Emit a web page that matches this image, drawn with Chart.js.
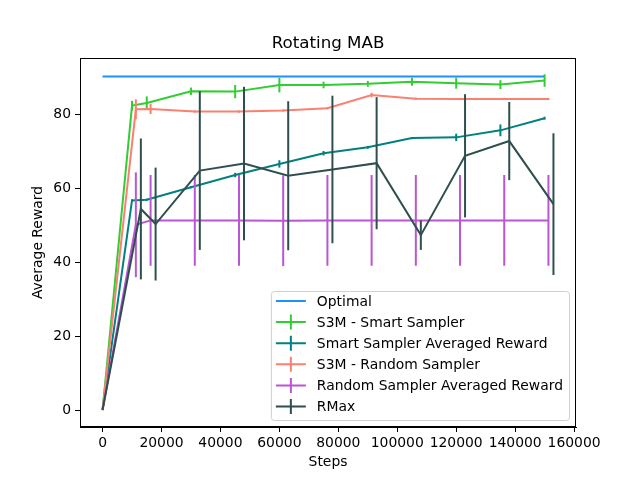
<!DOCTYPE html>
<html>
<head>
<meta charset="utf-8">
<script src="https://cdn.jsdelivr.net/npm/chart.js@4/dist/chart.umd.min.js"></script>
<style>
  html, body { margin: 0; padding: 0; background: #ffffff; }
  #wrap { width: 640px; height: 480px; }
</style>
</head>
<body>
<div id="wrap"><canvas id="chart" width="640" height="480"></canvas></div>
<script>
// Step counts for each family of runs
const stepsSmart = [0, 10000, 15000, 30000, 45000, 60000, 75000, 90000, 105000, 120000, 135000, 150000];
const stepsRandom = [0, 11300, 16300, 31300, 46300, 61300, 76300, 91300, 106300, 121300, 136300, 151300];
const stepsRMax = [0, 13000, 18000, 33000, 48000, 63000, 78000, 93000, 108000, 123000, 138000, 153000];

// Series values and their error half-widths
const optimal = [90.4, 90.4, 90.4, 90.4, 90.4, 90.4, 90.4, 90.4, 90.4, 90.4, 90.4, 90.4];
const s3mSmart = [0, 82.5, 83.2, 86.4, 86.3, 88.1, 88.1, 88.4, 89.0, 88.6, 88.2, 89.3];
const s3mSmartErr = [0, 1.3, 1.8, 1.0, 1.8, 2.0, 0.9, 0.8, 1.1, 1.5, 1.2, 1.7];
const smartAvg = [0, 56.8, 57.0, 60.4, 63.7, 66.7, 69.6, 71.2, 73.7, 73.9, 75.8, 79.1];
const smartAvgErr = [0, 0.3, 0.3, 0.3, 0.6, 1.0, 0.6, 0.4, 0.3, 1.0, 1.6, 0.4];
const s3mRandom = [0, 81.5, 81.6, 80.9, 80.9, 81.2, 81.8, 85.4, 84.4, 84.3, 84.3, 84.3];
const s3mRandomErr = [0, 2.7, 1.4, 0.3, 0.3, 0.3, 0.3, 0.6, 0.3, 0.3, 0.3, 0.3];
const randomAvg = [0, 50.2, 51.4, 51.4, 51.4, 51.3, 51.4, 51.4, 51.4, 51.4, 51.4, 51.4];
const randomAvgErr = [0, 14.2, 12.3, 12.3, 12.3, 12.3, 12.3, 12.3, 12.3, 12.3, 12.3, 12.3];
const rmax = [0, 54.5, 50.4, 64.9, 66.8, 63.5, 65.2, 66.9, 47.4, 68.9, 72.9, 55.8];
const rmaxErr = [0, 19.1, 15.3, 21.5, 20.8, 20.2, 20.0, 17.9, 4.0, 16.7, 10.6, 19.2];

const xTicks = [0, 20000, 40000, 60000, 80000, 100000, 120000, 140000, 160000];
const yTicks = [0, 20, 40, 60, 80];

const FONT = "'DejaVu Sans', 'Liberation Sans', sans-serif";

function pts(xs, ys) {
    return xs.map(function(x, i) { return { x: x, y: ys[i] }; });
}

function serie(label, xs, ys, errs, color, order) {
    return {
        label: label,
        data: pts(xs, ys),
        errors: errs,
        borderColor: color,
        backgroundColor: color,
        borderWidth: 2,
        pointRadius: 0,
        tension: 0,
        fill: false,
        order: order
    };
}

// Vertical error bars, drawn right after their own line
const errorBars = {
    id: 'errorBars',
    afterDatasetDraw: function(chart, args) {
        const ds = chart.data.datasets[args.index];
        if (!ds.errors) return;
        const ctx = chart.ctx;
        const xs = chart.scales.x, ys = chart.scales.y;
        ctx.save();
        ctx.strokeStyle = ds.borderColor;
        ctx.lineWidth = 2;
        ds.data.forEach(function(p, i) {
            const e = ds.errors[i];
            if (!e) return;
            const px = xs.getPixelForValue(p.x);
            ctx.beginPath();
            ctx.moveTo(px, ys.getPixelForValue(p.y - e));
            ctx.lineTo(px, ys.getPixelForValue(p.y + e));
            ctx.stroke();
        });
        ctx.restore();
    }
};

// Full frame around the axes, matplotlib style
const frame = {
    id: 'frame',
    afterDraw: function(chart) {
        const a = chart.chartArea, ctx = chart.ctx;
        ctx.save();
        ctx.strokeStyle = '#000';
        ctx.lineWidth = 1;
        ctx.strokeRect(Math.round(a.left) + 0.5, Math.round(a.top) + 0.5,
            Math.round(a.right - a.left) - 1, Math.round(a.bottom - a.top) - 1);
        ctx.restore();
    }
};

// Legend box in the lower right corner of the axes
const boxLegend = {
    id: 'boxLegend',
    afterDraw: function(chart) {
        const a = chart.chartArea, ctx = chart.ctx;
        const sets = chart.data.datasets;
        ctx.save();
        ctx.font = '13.9px ' + FONT;
        let maxW = 0;
        sets.forEach(function(d) { maxW = Math.max(maxW, ctx.measureText(d.label).width); });
        const pad = 5, handle = 30, gap = 11, row = 21.1;
        const w = pad + handle + gap + maxW + 6;
        const h = 129;
        const right = a.right - 7, bottom = a.bottom - 7;
        const left = right - w, top = bottom - h;

        ctx.beginPath();
        ctx.roundRect(left + 0.5, top + 0.5, w, h, 3);
        ctx.fillStyle = 'rgba(255,255,255,0.8)';
        ctx.fill();
        ctx.strokeStyle = '#d0d0d0';
        ctx.lineWidth = 1;
        ctx.stroke();

        sets.forEach(function(d, i) {
            const cy = top + 10 + i * row;
            const hx = left + pad;
            ctx.strokeStyle = d.borderColor;
            ctx.lineWidth = 2;
            ctx.beginPath();
            ctx.moveTo(hx, cy);
            ctx.lineTo(hx + handle, cy);
            if (d.errors) {
                ctx.moveTo(hx + handle / 2, cy - 7.5);
                ctx.lineTo(hx + handle / 2, cy + 7.5);
            }
            ctx.stroke();
            ctx.fillStyle = '#000';
            ctx.textBaseline = 'middle';
            ctx.textAlign = 'left';
            ctx.fillText(d.label, hx + handle + gap, cy + 1);
        });
        ctx.restore();
    }
};

const ctx = document.getElementById('chart').getContext('2d');

new Chart(ctx, {
    type: 'line',
    data: {
        datasets: [
            serie('Optimal', stepsSmart, optimal, null, '#1E90FF', 6),
            serie('S3M - Smart Sampler', stepsSmart, s3mSmart, s3mSmartErr, '#32CD32', 5),
            serie('Smart Sampler Averaged Reward', stepsSmart, smartAvg, smartAvgErr, '#008080', 4),
            serie('S3M - Random Sampler', stepsRandom, s3mRandom, s3mRandomErr, '#FA8072', 3),
            serie('Random Sampler Averaged Reward', stepsRandom, randomAvg, randomAvgErr, '#BA55D3', 2),
            serie('RMax', stepsRMax, rmax, rmaxErr, '#2F4F4F', 1)
        ]
    },
    options: {
        responsive: false,
        animation: false,
        devicePixelRatio: 1,
        layout: { padding: { left: 0, right: 64, top: 0, bottom: 0 } },
        plugins: {
            legend: { display: false },
            tooltip: { enabled: false },
            title: {
                display: true,
                text: 'Rotating MAB',
                fullSize: false,
                color: '#000',
                font: { family: FONT, size: 16.7, weight: 'normal', lineHeight: 1.2 },
                padding: { top: 34, bottom: 4 }
            }
        },
        scales: {
            x: {
                type: 'linear',
                min: -7650,
                max: 160650,
                afterFit: function(scale) { scale.height = 53; },
                afterBuildTicks: function(scale) {
                    scale.ticks = xTicks.map(function(v) { return { value: v }; });
                },
                grid: { drawOnChartArea: false, drawTicks: true, tickLength: 5, color: '#000', lineWidth: 1 },
                border: { display: true, color: '#000', width: 1 },
                ticks: {
                    color: '#000',
                    padding: 3,
                    maxRotation: 0,
                    font: { family: FONT, size: 13.9 },
                    callback: function(value) { return String(value); }
                },
                title: {
                    display: true,
                    text: 'Steps',
                    color: '#000',
                    font: { family: FONT, size: 13.9, lineHeight: 1.2 },
                    padding: { top: 0, bottom: 9.4 }
                }
            },
            y: {
                type: 'linear',
                min: -4.6,
                max: 95.4,
                afterFit: function(scale) { scale.width = 80; },
                afterBuildTicks: function(scale) {
                    scale.ticks = yTicks.map(function(v) { return { value: v }; });
                },
                grid: { drawOnChartArea: false, drawTicks: true, tickLength: 5, color: '#000', lineWidth: 1 },
                border: { display: true, color: '#000', width: 1 },
                ticks: {
                    color: '#000',
                    padding: 4,
                    font: { family: FONT, size: 13.9 },
                    callback: function(value) { return String(value); }
                },
                title: {
                    display: true,
                    text: 'Average Reward',
                    color: '#000',
                    font: { family: FONT, size: 13.9, lineHeight: 1.2 },
                    padding: { top: 30, bottom: 0 }
                }
            }
        }
    },
    plugins: [errorBars, frame, boxLegend]
});
</script>
</body>
</html>
